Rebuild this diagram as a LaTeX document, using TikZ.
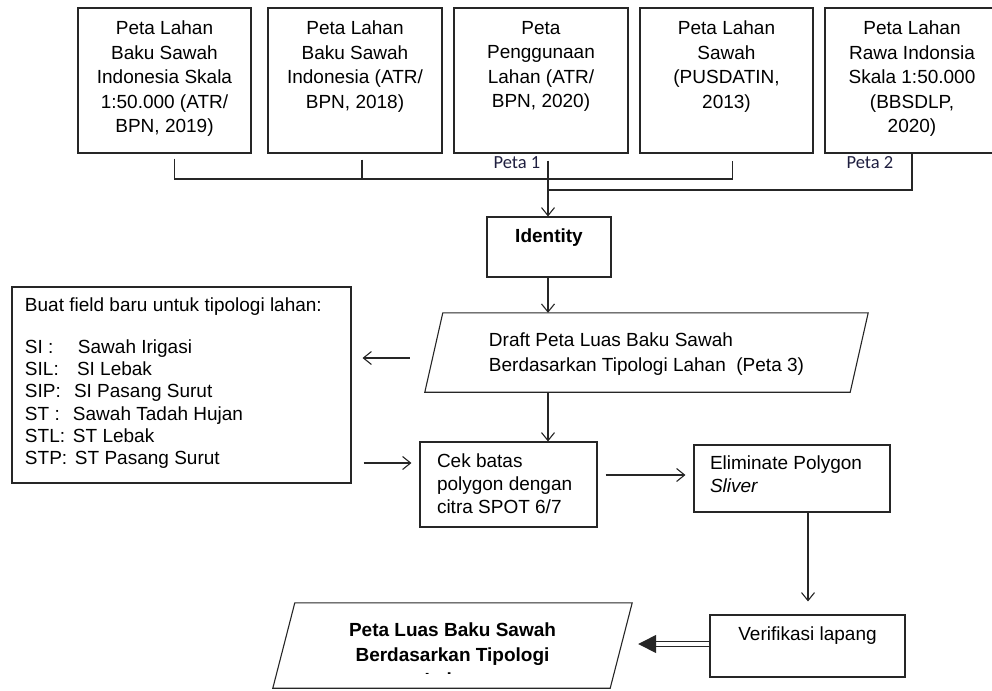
\documentclass[tikz,border=0pt]{standalone}
\usepackage{fontspec}
\setmainfont{Liberation Sans}
\newfontfamily\calibfont{Carlito}
\usetikzlibrary{arrows.meta}
\definecolor{lncol}{gray}{0.15}
\definecolor{labcol}{rgb}{0.12,0.12,0.25}
\begin{document}
\begin{tikzpicture}[x=1pt,y=-1pt,
  ln/.style={line width=1.1pt, draw=lncol},
  arr/.style={ln, -{Straight Barb[length=8pt,width=13pt]}},
  box/.style={draw=lncol, line width=1.1pt, inner sep=0pt},
  txt/.style={font=\fontsize{19}{24.5}\selectfont},
  bold/.style={font=\fontsize{19}{25}\selectfont\bfseries},
  lab/.style={font=\calibfont\fontsize{18.5}{20}\selectfont, text=labcol, inner sep=0pt}
]
\useasboundingbox (0,0) rectangle (992,690);

% top boxes
\node[box,txt] (b1) at (164.5,80.5) {\parbox[c][145pt][t]{173pt}{\centering\vspace*{13pt}Peta Lahan\\Baku Sawah\\Indonesia Skala\\1:50.000 (ATR/\\BPN, 2019)}};
\node[box,txt] (b2) at (355,80.5) {\parbox[c][145pt][t]{174pt}{\centering\vspace*{13pt}Peta Lahan\\Baku Sawah\\Indonesia (ATR/\\BPN, 2018)}};
\node[box,txt] (b3) at (541,80.5) {\parbox[c][145pt][t]{174pt}{\centering\vspace*{13pt}Peta\\Penggunaan\\Lahan (ATR/\\BPN, 2020)}};
\node[box,txt] (b4) at (726.5,80.5) {\parbox[c][145pt][t]{173pt}{\centering\vspace*{13pt}Peta Lahan\\Sawah\\(PUSDATIN,\\2013)}};
\node[box,txt] (b5) at (912,80.5) {\parbox[c][145pt][t]{174pt}{\centering\vspace*{13pt}Peta Lahan\\Rawa Indonsia\\Skala 1:50.000\\(BBSDLP,\\2020)}};

\node[lab] (p1) at (517,163) {Peta 1};
\node[lab] (p2) at (870,163) {Peta 2};

% bus
\coordinate (s1) at ([shift={(10,5)}]b1.south);
\coordinate (s2) at ([shift={(7,6)}]b2.south);
\coordinate (s3) at ([shift={(7,7)}]b3.south);
\coordinate (s4) at ([shift={(6,7)}]b4.south);
\coordinate (busA) at (0,179);
\coordinate (busB) at (0,190);

% identity
\node[box,bold] (id) at (549,247) {\parbox[c][60pt][t]{124pt}{\centering\vspace*{12pt}Identity}};

\draw[ln] (s1) -- (s1 |- busA) -- (s4 |- busA) -- (s4);
\draw[ln] (s2) -- (s2 |- busA);
\draw[ln] (b5.south) -- (b5.south |- busB) -- (s3 |- busB);
\draw[arr] (s3) -- (s3 |- id.north);

% draft parallelogram
\node[txt, inner sep=0pt, minimum width=443pt, minimum height=79pt, align=left] (dr) at (646.5,354) {Draft Peta Luas Baku Sawah\\Berdasarkan Tipologi Lahan\ \ (Peta 3)};
\draw[ln] ([shift={(18,-1.5)}]dr.north west) -- ([shift={(0,-1.5)}]dr.north east) -- ([shift={(-18,-1.5)}]dr.south east) -- ([shift={(0,-1.5)}]dr.south west) -- cycle;
\coordinate (drtop) at ([shift={(0,-1.5)}]dr.north);
\coordinate (drbot) at ([shift={(0,-1.5)}]dr.south);
\draw[arr] (s3 |- id.south) -- (s3 |- drtop);

% left box
\node[box, font=\fontsize{19}{22.2}\selectfont] (lb) at (181.5,385) {\parbox[c][196pt][t]{339pt}{\raggedright\leftskip=13pt\vspace*{11pt}Buat field baru untuk tipologi lahan:\\[19.5pt]
\makebox[53pt][l]{SI :}Sawah Irigasi\\
\makebox[52pt][l]{SIL:}SI Lebak\\
\makebox[49pt][l]{SIP:}SI Pasang Surut\\
\makebox[48pt][l]{ST :}Sawah Tadah Hujan\\
\makebox[48pt][l]{STL:}ST Lebak\\
\makebox[50pt][l]{STP:}ST Pasang Surut}};

\draw[arr] ([shift={(-15,4)}]dr.west) -- ([shift={(11,-27)}]lb.east);

% cek
\node[box, font=\fontsize{19}{23}\selectfont] (cek) at (508.5,484.5) {\parbox[c][85pt][t]{177pt}{\raggedright\leftskip=17pt\vspace*{12pt}Cek batas\\polygon dengan\\citra SPOT 6/7}};
\draw[arr] (s3 |- drbot) -- (s3 |- cek.north);
\draw[arr] ([shift={(12,78)}]lb.east) -- ([shift={(-8,-21.5)}]cek.west);

% eliminate
\node[box, font=\fontsize{19}{23}\selectfont] (el) at (792,478.5) {\parbox[c][67pt][t]{196pt}{\raggedright\leftskip=16pt\vspace*{11pt}Eliminate Polygon\\\textit{Sliver}}};
\draw[arr] ([shift={(8,-9.5)}]cek.east) -- ([shift={(-8,-3.5)}]el.west);

% verifikasi
\node[box, font=\fontsize{19}{23}\selectfont] (ver) at (807.5,646) {\parbox[c][62pt][t]{195pt}{\centering\vspace*{12pt}Verifikasi lapang}};
\draw[arr] ([shift={(16,0)}]el.south) -- ([shift={(0.5,-13)}]ver.north);

% final
\begin{scope}
\clip (250,590) rectangle (700,673);
\node[bold, inner sep=0pt] (fin) at (452.5,645.5) {\parbox[c][85pt][t]{359pt}{\centering\vspace*{20pt}Peta Luas Baku Sawah\\Berdasarkan Tipologi\\Lahan}};
\end{scope}
\draw[ln] ([shift={(22,0)}]fin.north west) -- (fin.north east) -- ([shift={(-22,0)}]fin.south east) -- (fin.south west) -- cycle;
\coordinate (tipA) at ([shift={(6,-1.5)}]fin.east);
\draw[line width=1.4pt, draw=lncol, double distance=3.6pt, -{Triangle[length=18pt,width=18pt]}] ([shift={(0,-2)}]ver.west) -- (tipA);
\end{tikzpicture}
\end{document}
